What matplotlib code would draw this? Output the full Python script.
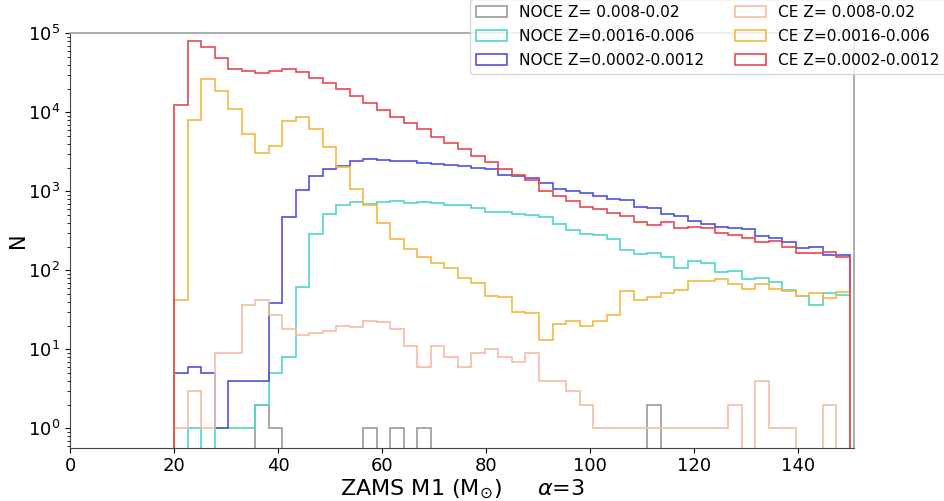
"""
Histogram of ZAMS M1 for NOCE / CE channels at three metallicity ranges.
"""

import numpy as np
import matplotlib
matplotlib.use("Agg")
import matplotlib.pyplot as plt

# 50 bins between 20 and 150 Msun
bin_edges = np.linspace(20, 150, 51)

# counts per bin
noce_high = [0, 0, 0, 0, 0, 0, 2, 1, 0, 0,
             0, 0, 0, 0, 1, 0, 1, 0, 1, 0,
             0, 0, 0, 0, 0, 0, 0, 0, 0, 0,
             0, 0, 0, 0, 0, 2, 0, 0, 0, 0,
             0, 0, 0, 0, 0, 0, 0, 0, 0, 0]
noce_mid = [0, 1, 0, 1, 1, 1, 2, 5, 8, 61,
            286, 512, 671, 726, 690, 736, 752, 716, 736, 716,
            670, 670, 618, 551, 541, 514, 508, 472, 385, 323,
            288, 277, 249, 180, 159, 167, 147, 108, 131, 125,
            95, 99, 77, 79, 72, 56, 47, 36, 51, 48]
noce_low = [5, 6, 5, 1, 4, 4, 4, 38, 469, 1036,
            1574, 1928, 2085, 2415, 2535, 2460, 2440, 2390, 2295, 2210,
            2130, 2085, 1985, 1900, 1600, 1574, 1470, 1290, 1057, 1015,
            959, 869, 790, 774, 637, 607, 511, 491, 420, 381,
            350, 343, 330, 271, 254, 230, 191, 199, 156, 157]
ce_high = [1, 3, 1, 9, 9, 36, 42, 27, 18, 15,
           16, 17, 20, 19, 23, 22, 18, 11, 6, 11,
           8, 6, 9, 10, 8, 7, 9, 4, 4, 3,
           2, 1, 1, 1, 1, 1, 1, 1, 1, 1,
           1, 2, 0, 4, 1, 1, 0, 0, 2, 0]
ce_mid = [42, 7980, 26100, 18700, 11100, 5300, 3020, 3730, 7740, 8770,
          6180, 3660, 2040, 1067, 670, 400, 246, 186, 148, 122,
          106, 79, 70, 47, 46, 30, 29, 13, 21, 23,
          20, 23, 27, 55, 42, 46, 52, 57, 74, 74,
          77, 67, 58, 68, 58, 55, 47, 52, 45, 53]
ce_low = [12450, 80300, 66300, 49400, 35500, 32900, 31600, 33200, 34900, 32000,
          27100, 23200, 19500, 16000, 13000, 10700, 8770, 7230, 6070, 4890,
          4040, 3390, 2820, 2360, 1900, 1590, 1390, 1000, 870, 752,
          637, 591, 525, 486, 404, 373, 412, 346, 353, 346,
          294, 277, 258, 230, 232, 199, 167, 164, 172, 146]

labels = ["NOCE Z= 0.008-0.02", "NOCE Z=0.0016-0.006", "NOCE Z=0.0002-0.0012",
          "CE Z= 0.008-0.02", "CE Z=0.0016-0.006", "CE Z=0.0002-0.0012"]
colors = ["#9a9a9a", "#4fd6cc", "#4f4fe0", "#f7bba3", "#f4b73f", "#e6474f"]
series = [noce_high, noce_mid, noce_low, ce_high, ce_mid, ce_low]

fig = plt.figure(figsize=(9.44, 5.01), dpi=100)
ax = fig.add_axes([0.0742, 0.1064, 0.8305, 0.8271])

centers = 0.5 * (bin_edges[:-1] + bin_edges[1:])
for vals, col, lab in zip(series, colors, labels):
    ax.hist(centers, bins=bin_edges, weights=vals, histtype="step", log=True,
            color=col, label=lab, linewidth=1.2)

ax.set_xlim(0, 150.8)
ax.set_ylim(0.568, 1e5)
ax.set_xticks(np.arange(0, 141, 20))
ax.tick_params(axis="both", which="major", labelsize=13)

# frame: dark on the axis sides, lighter on top/right
for side in ["left", "bottom"]:
    ax.spines[side].set_color("#444444")
for side in ["top", "right"]:
    ax.spines[side].set_color("#a0a0a0")
    ax.spines[side].set_linewidth(1.2)

ax.set_xlabel(r"ZAMS M1 (M$_{\odot}$)     $\alpha$=3", fontsize=16, labelpad=2)
ax.set_ylabel("N", fontsize=15, labelpad=0)

ax.legend(ncol=2, fontsize=11.1, loc="upper left", labelspacing=0.57,
          bbox_to_anchor=(470 / 944, 1 + 1 / 501),
          bbox_transform=fig.transFigure, borderaxespad=0)

fig.savefig("out.png", dpi=100)
plt.close(fig)
